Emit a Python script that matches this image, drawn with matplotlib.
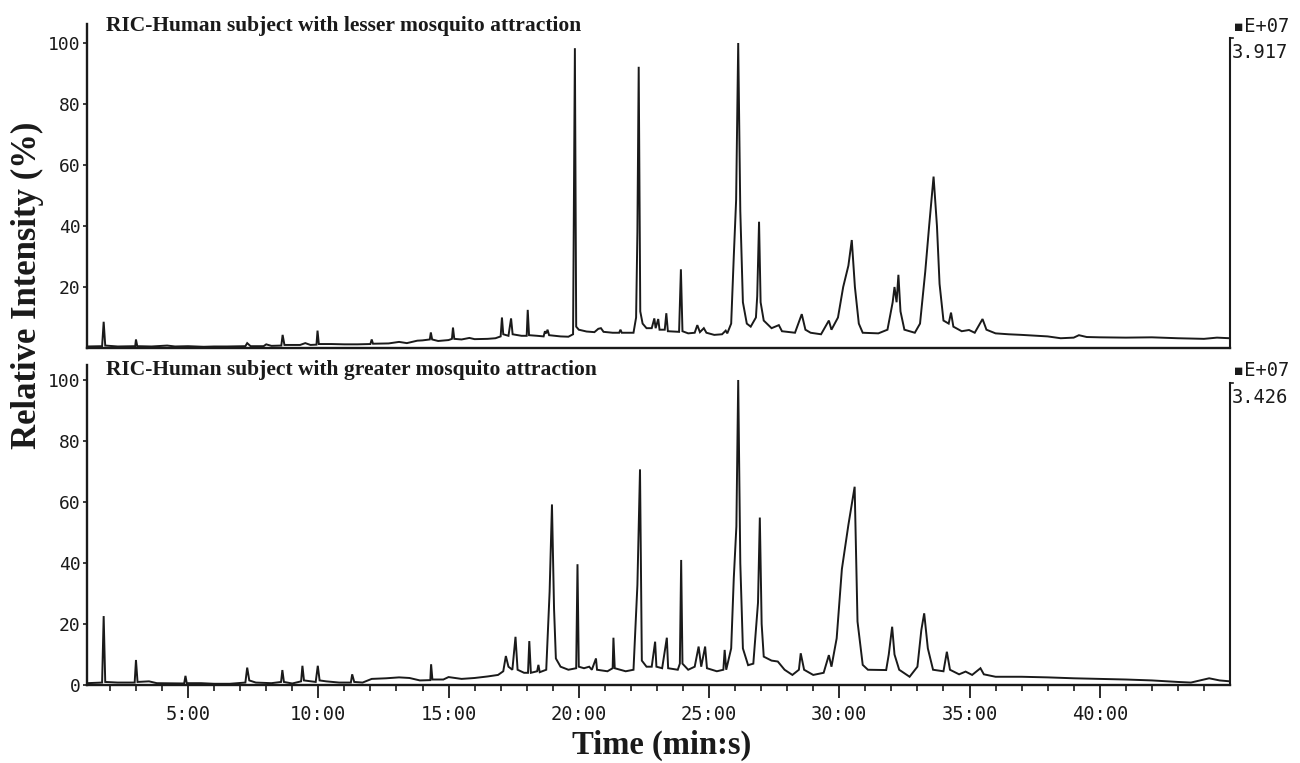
import matplotlib
matplotlib.use("Agg")
import matplotlib.pyplot as plt
from matplotlib.ticker import FixedLocator, FuncFormatter

# retention time (min) / relative intensity (%)
t_lesser = [1.12, 1.70, 1.76, 1.82, 2.3, 2.97, 3.0, 3.05, 3.6, 4.2, 4.5, 5.0, 5.6, 6.0, 6.5,
            7.2, 7.27, 7.4, 7.9, 8.0, 8.2, 8.58, 8.63, 8.7, 9.3, 9.5, 9.7, 9.93, 9.97, 10.02,
            10.5, 11.0, 11.5, 12.0, 12.05, 12.1, 12.7, 13.1, 13.4, 13.8, 14.0, 14.28, 14.32,
            14.37, 14.6, 15.0, 15.13, 15.17, 15.22, 15.5, 15.8, 16.0, 16.5, 16.8, 17.0, 17.05,
            17.1, 17.3, 17.4, 17.46, 17.8, 18.0, 18.04, 18.09, 18.4, 18.65, 18.7, 18.75, 18.8,
            18.86, 19.3, 19.6, 19.78, 19.85, 19.9, 20.0, 20.3, 20.6, 20.75, 20.85, 20.95, 21.3,
            21.55, 21.6, 21.65, 22.1, 22.2, 22.25, 22.3, 22.36, 22.45, 22.6, 22.8, 22.9, 22.95,
            23.05, 23.1, 23.3, 23.36, 23.42, 23.85, 23.92, 23.98, 24.2, 24.45, 24.55, 24.65,
            24.8, 24.9, 25.2, 25.5, 25.64, 25.7, 25.85, 25.95, 26.04, 26.12, 26.2, 26.3, 26.45,
            26.6, 26.8, 26.85, 26.92, 26.98, 27.1, 27.4, 27.68, 27.8, 28.3, 28.56, 28.7, 28.9,
            29.3, 29.6, 29.7, 29.95, 30.15, 30.35, 30.48, 30.6, 30.75, 30.9, 31.5, 31.85, 32.05,
            32.12, 32.2, 32.27, 32.35, 32.5, 32.9, 33.1, 33.3, 33.45, 33.62, 33.75, 33.85, 34.0,
            34.2, 34.29, 34.38, 34.7, 34.98, 35.2, 35.5, 35.65, 36.0, 36.5, 37.0, 38.0, 38.5,
            39.0, 39.2, 39.5, 40.0, 41.0, 42.0, 43.0, 44.0, 44.5, 45.0]
i_lesser = [0.5, 0.6, 8.6, 0.8, 0.5, 0.6, 2.8, 0.6, 0.5, 0.8, 0.5, 0.6, 0.4, 0.5, 0.5,
            0.6, 1.6, 0.6, 0.6, 1.2, 0.7, 0.8, 4.3, 1.0, 1.0, 1.6, 1.0, 1.1, 5.7, 1.3,
            1.3, 1.2, 1.2, 1.3, 2.8, 1.4, 1.5, 2.0, 1.6, 2.4, 2.5, 2.8, 5.1,
            2.8, 2.3, 2.6, 3.0, 6.7, 3.0, 2.8, 3.3, 2.9, 3.0, 3.2, 3.8, 10.0,
            4.5, 4.0, 9.7, 4.5, 4.0, 4.0, 12.5, 4.2, 4.0, 3.8, 5.5, 4.8, 6.0,
            4.2, 3.8, 3.7, 4.5, 98.3, 7.0, 6.0, 5.4, 5.2, 6.3, 6.5, 5.3, 5.0,
            5.0, 6.0, 5.0, 5.0, 10.0, 38.0, 92.2, 12.0, 8.0, 6.5, 6.5, 9.7, 6.5,
            9.5, 6.0, 6.0, 11.4, 5.5, 5.3, 25.8, 5.5, 4.8, 5.0, 7.5, 5.2,
            6.5, 5.0, 4.3, 4.5, 5.7, 4.8, 8.0, 30.0, 48.5, 100.0, 45.0, 15.0, 8.0,
            7.0, 10.0, 17.0, 41.4, 15.0, 9.0, 6.5, 7.5, 5.5, 5.0, 11.1, 6.0, 5.0,
            4.5, 9.0, 6.0, 10.0, 20.0, 27.0, 35.4, 20.0, 8.0, 5.0, 4.8, 6.0, 15.0,
            20.0, 15.0, 24.0, 12.0, 6.0, 5.0, 8.0, 25.0, 40.0, 56.2, 40.0, 21.0, 9.0,
            8.0, 11.6, 7.0, 5.5, 5.9, 5.0, 9.5, 6.0, 4.8, 4.5, 4.3, 3.8, 3.2,
            3.4, 4.2, 3.6, 3.5, 3.4, 3.5, 3.2, 3.0, 3.4, 3.2]

t_greater = [1.12, 1.70, 1.76, 1.82, 2.3, 2.95, 3.0, 3.06, 3.5, 3.8, 4.85, 4.9, 4.95, 5.5,
             6.0, 6.6, 7.2, 7.27, 7.35, 7.6, 8.2, 8.57, 8.62, 8.68, 9.0, 9.34, 9.39, 9.45,
             9.9, 9.98, 10.05, 10.3, 10.8, 11.25, 11.3, 11.38, 11.7, 12.05, 12.6, 13.1, 13.5,
             13.9, 14.3, 14.33, 14.38, 14.8, 15.0, 15.5, 16.0, 16.5, 16.9, 17.1, 17.2, 17.3,
             17.45, 17.57, 17.65, 17.9, 18.05, 18.1, 18.16, 18.4, 18.45, 18.5, 18.75, 18.88,
             18.97, 19.05, 19.12, 19.3, 19.6, 19.9, 19.95, 20.0, 20.2, 20.4, 20.5, 20.66, 20.7,
             21.1, 21.3, 21.33, 21.38, 21.8, 22.1, 22.25, 22.35, 22.42, 22.6, 22.8, 22.93,
             22.98, 23.2, 23.38, 23.43, 23.8, 23.88, 23.93, 23.98, 24.2, 24.45, 24.6, 24.7,
             24.85, 24.92, 25.3, 25.55, 25.6, 25.66, 25.85, 25.95, 26.05, 26.12, 26.2, 26.3,
             26.5, 26.7, 26.88, 26.95, 27.02, 27.1, 27.4, 27.64, 27.9, 28.2, 28.45, 28.52,
             28.65, 29.0, 29.4, 29.6, 29.7, 29.9, 30.1, 30.35, 30.59, 30.7, 30.9, 31.1, 31.8,
             31.9, 32.03, 32.12, 32.3, 32.7, 33.0, 33.15, 33.26, 33.4, 33.6, 34.0, 34.13, 34.25,
             34.6, 34.85, 35.1, 35.42, 35.55, 36.0, 37.0, 38.0, 39.0, 40.0, 41.0, 42.0, 43.0,
             43.5, 44.2, 44.6, 45.0]
i_greater = [0.6, 0.8, 22.6, 1.0, 0.8, 0.8, 8.2, 1.0, 1.2, 0.6, 0.5, 3.0, 0.6, 0.6,
             0.4, 0.4, 0.8, 5.7, 1.5, 0.8, 0.6, 1.0, 4.9, 1.0, 0.5, 1.2, 6.3, 1.5,
             1.0, 6.3, 1.5, 1.2, 0.8, 0.8, 3.5, 1.0, 0.8, 2.0, 2.2, 2.5, 2.3,
             1.5, 1.6, 6.8, 1.8, 1.8, 2.6, 2.0, 2.3, 2.8, 3.3, 4.5, 9.5, 6.0,
             5.0, 15.8, 5.0, 4.0, 4.0, 14.4, 4.0, 4.5, 6.6, 4.2, 5.0, 30.6,
             59.2, 25.0, 8.7, 6.0, 5.0, 5.5, 39.6, 6.0, 5.5, 6.0, 5.0, 8.7, 5.0,
             4.5, 5.5, 15.5, 5.5, 4.5, 5.0, 32.8, 70.7, 8.0, 6.0, 6.0, 14.2,
             6.0, 5.5, 15.5, 5.5, 5.0, 7.0, 41.0, 7.0, 5.0, 6.0, 12.6, 6.0,
             12.6, 5.5, 4.5, 5.0, 11.5, 5.0, 12.0, 35.0, 52.0, 100.0, 40.0, 12.0,
             6.5, 7.0, 27.0, 54.9, 20.0, 9.3, 8.0, 7.7, 5.0, 3.3, 5.0, 10.4,
             5.0, 3.3, 4.0, 9.8, 6.0, 15.3, 38.0, 52.5, 65.0, 20.8, 6.6, 5.0, 4.9,
             10.0, 19.1, 10.0, 5.0, 2.7, 6.0, 18.0, 23.5, 12.0, 5.0, 4.5, 10.9, 5.0,
             3.5, 4.4, 3.3, 5.5, 3.5, 2.7, 2.7, 2.5, 2.2, 2.0, 1.8, 1.5, 1.0,
             0.8, 2.2, 1.5, 1.2]

titles = ["RIC-Human subject with lesser mosquito attraction",
          "RIC-Human subject with greater mosquito attraction"]
full_scale = ["3.917", "3.426"]
y_ticks = [20, 40, 60, 80, 100]
x_major = [5, 10, 15, 20, 25, 30, 35, 40]
x_minor = list(range(2, 45))

W, H = 1300, 763
fig = plt.figure(figsize=(W / 100, H / 100), dpi=100)
fig.patch.set_facecolor("white")

x0, x1 = 87, 1230
xmin, xmax = 1.12, 45.0
ink = "#1a1a1a"
mono = "DejaVu Sans Mono"
serif = "Liberation Serif"

# (top px, zero px, bracket px, title baseline px) for each panel
panels = [(24, 348, 38, 31), (365, 685, 383, 375)]
traces = [(t_lesser, i_lesser), (t_greater, i_greater)]

axes = []
for k, (top, zero, brk, tbase) in enumerate(panels):
    ax = fig.add_axes([x0 / W, 1 - zero / H, (x1 - x0) / W, (zero - top) / H])
    px_per = 3.05
    ytop = (zero - top) / px_per
    ax.set_xlim(xmin, xmax)
    ax.set_ylim(0, ytop)
    t, v = traces[k]
    ax.plot(t, v, color=ink, lw=1.4, solid_joinstyle="miter")

    for s in ["top", "right"]:
        ax.spines[s].set_visible(False)
    for s in ["left", "bottom"]:
        ax.spines[s].set_color(ink)
        ax.spines[s].set_linewidth(1.7)

    # right-hand full-scale bracket
    yb = (zero - brk) / px_per
    ax.plot([xmax, xmax], [0, yb], color=ink, lw=1.5, clip_on=False)
    ax.plot([xmax, xmax + 0.12], [yb, yb], color=ink, lw=1.2, clip_on=False)
    fig.text(1233 / W, 1 - (brk - 12) / H, "\u25aaE+07", fontsize=13.5, family=mono,
             color=ink, va="center", ha="left")
    fig.text(1232 / W, 1 - (brk + 15) / H, full_scale[k], fontsize=13.5, family=mono,
             color=ink, va="center", ha="left")

    ax.set_yticks(y_ticks)
    ax.set_yticklabels([str(y) for y in y_ticks])
    ax.tick_params(axis="y", direction="out", length=3, width=1.2, pad=1.5,
                   labelsize=13, colors=ink, labelfontfamily=mono)

    fig.text(106 / W, 1 - tbase / H, titles[k], fontsize=15.5, fontweight="bold",
             family=serif, color=ink, va="baseline", ha="left")
    axes.append(ax)

top_ax, bot_ax = axes
top_ax.tick_params(axis="x", bottom=False, labelbottom=False)
bot_ax.set_yticks([0] + y_ticks)
bot_ax.set_yticklabels([str(y) for y in [0] + y_ticks])

bot_ax.xaxis.set_major_locator(FixedLocator(x_major))
bot_ax.xaxis.set_minor_locator(FixedLocator(x_minor))
bot_ax.xaxis.set_major_formatter(FuncFormatter(lambda m, pos: f"{int(m)}:00"))
bot_ax.tick_params(axis="x", which="major", direction="out", length=9.5, width=1.3,
                   pad=5, labelsize=13.5, colors=ink, labelfontfamily=mono)
bot_ax.tick_params(axis="x", which="minor", direction="out", length=4, width=1.2, colors=ink)

fig.text(662 / W, 1 - 745 / H, "Time (min:s)", fontsize=23.5, fontweight="bold",
         family=serif, color=ink, ha="center", va="center")
fig.text(27 / W, 1 - 285 / H, "Relative Intensity (%)", fontsize=25, fontweight="bold",
         family=serif, color=ink, ha="center", va="center", rotation=90)

fig.savefig("out.png", dpi=100, facecolor="white")
